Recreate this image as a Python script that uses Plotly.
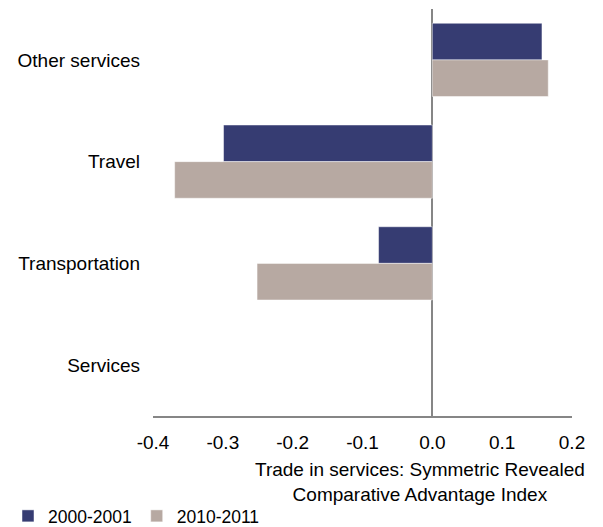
import plotly.graph_objects as go

categories = ["Other services", "Travel", "Transportation", "Services"]
series_2000 = [0.157, -0.299, -0.077, None]
series_2010 = [0.166, -0.369, -0.251, None]
series_names = ["2000-2001", "2010-2011"]
colors = ["#363C72", "#B7A9A2"]
x_ticks = [-0.4, -0.3, -0.2, -0.1, 0.0, 0.1, 0.2]
x_title = "Trade in services: Symmetric Revealed<br>Comparative Advantage Index"

FONT = "Liberation Sans, Arial, sans-serif"

fig = go.Figure()
for name, vals, col in zip(series_names, [series_2000, series_2010], colors):
    fig.add_trace(go.Bar(
        y=categories, x=vals, name=name, orientation="h",
        marker=dict(color=col, line=dict(color="rgba(255,255,255,0.6)", width=0.8)),
    ))

fig.update_layout(
    width=603, height=527,
    margin=dict(l=153, r=31, t=9, b=111),
    paper_bgcolor="white", plot_bgcolor="white",
    barmode="group", bargap=0.28, bargroupgap=0,
    font=dict(family=FONT, size=19, color="#000000"),
    showlegend=True,
    legend=dict(
        orientation="h", xref="container", yref="container",
        x=8 / 603, y=(527 - 516) / 527, xanchor="left", yanchor="middle",
        font=dict(size=17.5), itemwidth=30, traceorder="normal",
        bgcolor="rgba(0,0,0,0)",
    ),
    xaxis=dict(
        range=[-0.4, 0.2], tickvals=x_ticks,
        ticktext=[f"{v:.1f}" for v in x_ticks],
        showgrid=False, zeroline=True, zerolinecolor="#868686", zerolinewidth=2,
        showline=True, linecolor="#868686", linewidth=2,
        ticks="", ticklabelstandoff=8,
        tickfont=dict(size=19),
    ),
    yaxis=dict(
        categoryorder="array", categoryarray=categories, autorange="reversed",
        showgrid=False, zeroline=False, showline=False, ticks="",
        ticklabelstandoff=12, tickfont=dict(size=19),
    ),
    annotations=[dict(
        text=x_title, xref="paper", yref="paper",
        x=(420 - 153) / (572 - 153), y=-0.10, xanchor="center", yanchor="top",
        showarrow=False, font=dict(size=19), align="center",
    )],
)

fig.write_html(
    "out.html",
    config={"displayModeBar": False},
    post_script="document.body.style.margin='0';document.body.style.padding='0';",
)
